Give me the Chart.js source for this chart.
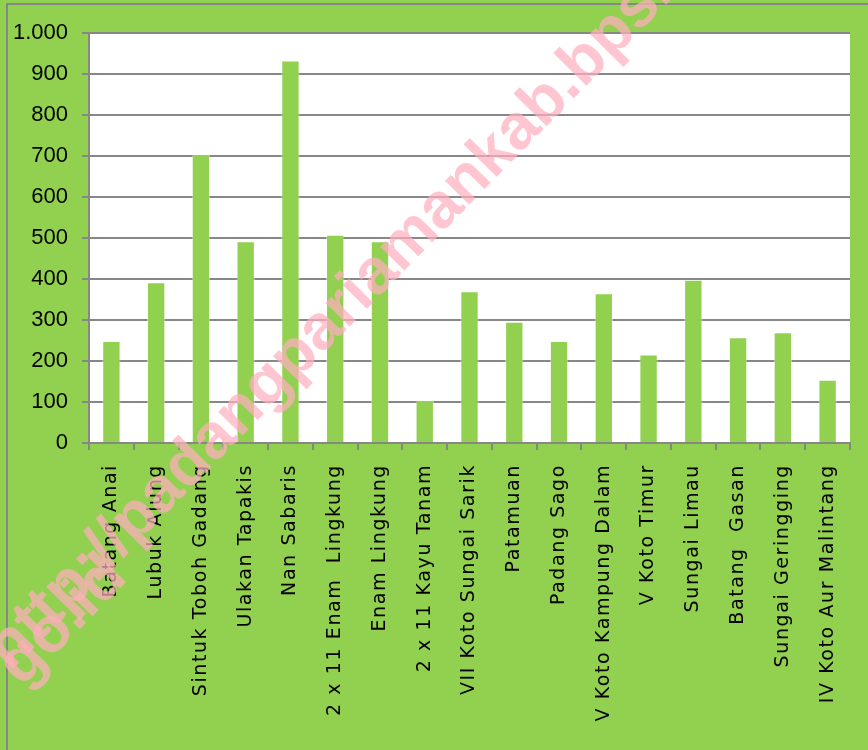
<!DOCTYPE html>
<html>
<head>
<meta charset="utf-8">
<script src="https://cdn.jsdelivr.net/npm/chart.js@4.4.1/dist/chart.umd.min.js"></script>
<style>
  html, body { margin: 0; padding: 0; background: #92D050; }
  canvas { display: block; }
</style>
</head>
<body>
<canvas id="barChart" width="868" height="750"></canvas>
<script>
// Kecamatan names (x axis)
const kecamatan = [
    'Batang Anai', 'Lubuk Alung', 'Sintuk Toboh Gadang', 'Ulakan Tapakis',
    'Nan Sabaris', '2 x 11 Enam  Lingkung', 'Enam Lingkung', '2 x 11 Kayu Tanam',
    'VII Koto Sungai Sarik', 'Patamuan', 'Padang Sago', 'V Koto Kampung Dalam',
    'V Koto Timur', 'Sungai Limau', 'Batang  Gasan', 'Sungai Geringging',
    'IV Koto Aur Malintang'
];

// values
const nilai = [249, 392, 705, 492, 933, 508, 492, 105, 370, 296, 249, 365, 216, 398, 258, 270, 154];

// y axis ticks
const yMin = 0;
const yMax = 1000;
const yStep = 100;

const green = '#92D050';
const gridGray = '#878787';

// paint background, outer frame and white plot area
const backgroundPlugin = {
    id: 'background',
    beforeDraw(chart) {
        const ctx = chart.ctx;
        const area = chart.chartArea;
        ctx.save();
        ctx.fillStyle = green;
        ctx.fillRect(0, 0, chart.width, chart.height);
        ctx.strokeStyle = gridGray;
        ctx.lineWidth = 2;
        ctx.strokeRect(7, 4, chart.width + 20, chart.height + 20);
        ctx.fillStyle = '#ffffff';
        ctx.fillRect(area.left, area.top, area.right - area.left, area.bottom - area.top);
        ctx.restore();
    },
    afterDatasetsDraw(chart) {
        // x labels are drawn after the bars, with a bit of letter spacing
        chart.ctx.letterSpacing = '1.6px';
    },
    afterDraw(chart) {
        const ctx = chart.ctx;
        ctx.letterSpacing = '0px';
        // watermark
        ctx.save();
        ctx.font = 'bold 64px "Liberation Sans", Arial, sans-serif';
        ctx.fillStyle = 'rgba(255, 175, 190, 0.72)';
        ctx.translate(10, 672);
        ctx.rotate(-45.5 * Math.PI / 180);
        ctx.fillText('http://padangpariamankab.bps.go.id', 0, 0);
        ctx.restore();
        ctx.save();
        ctx.font = 'bold 64px "Liberation Sans", Arial, sans-serif';
        ctx.fillStyle = 'rgba(255, 175, 190, 0.72)';
        ctx.translate(22, 688);
        ctx.rotate(-45.5 * Math.PI / 180);
        ctx.fillText('go.id', 0, 0);
        ctx.restore();
    }
};

const ctx = document.getElementById('barChart').getContext('2d');
const chart = new Chart(ctx, {
    type: 'bar',
    data: {
        labels: kecamatan,
        datasets: [{
            data: nilai,
            backgroundColor: green,
            borderColor: 'rgba(255,255,255,0.45)',
            borderWidth: 1,
            categoryPercentage: 1.0,
            barPercentage: 0.41
        }]
    },
    options: {
        responsive: false,
        animation: false,
        layout: {
            padding: { top: 33, right: 18, left: 0, bottom: 0 }
        },
        plugins: {
            legend: { display: false },
            tooltip: { enabled: false }
        },
        scales: {
            x: {
                grid: {
                    drawOnChartArea: false,
                    drawTicks: true,
                    tickLength: 7,
                    color: gridGray,
                    lineWidth: 2
                },
                border: { display: true, color: gridGray, width: 2, z: 1 },
                ticks: {
                    z: 1,
                    autoSkip: false,
                    maxRotation: 90,
                    minRotation: 90,
                    padding: 14,
                    color: '#000000',
                    font: { family: '"DejaVu Sans", Verdana, sans-serif', size: 19 }
                },
                afterFit(scale) { scale.height = 307; }
            },
            y: {
                min: yMin,
                max: yMax,
                grid: {
                    color: gridGray,
                    lineWidth: 2,
                    tickLength: 7
                },
                border: { display: true, color: gridGray, width: 2 },
                ticks: {
                    stepSize: yStep,
                    padding: 14,
                    color: '#000000',
                    font: { family: '"Liberation Sans", Arial, sans-serif', size: 22 },
                    callback: (v) => v.toLocaleString('id-ID')
                },
                afterFit(scale) { scale.width = 89; }
            }
        }
    },
    plugins: [backgroundPlugin]
});
</script>
</body>
</html>
